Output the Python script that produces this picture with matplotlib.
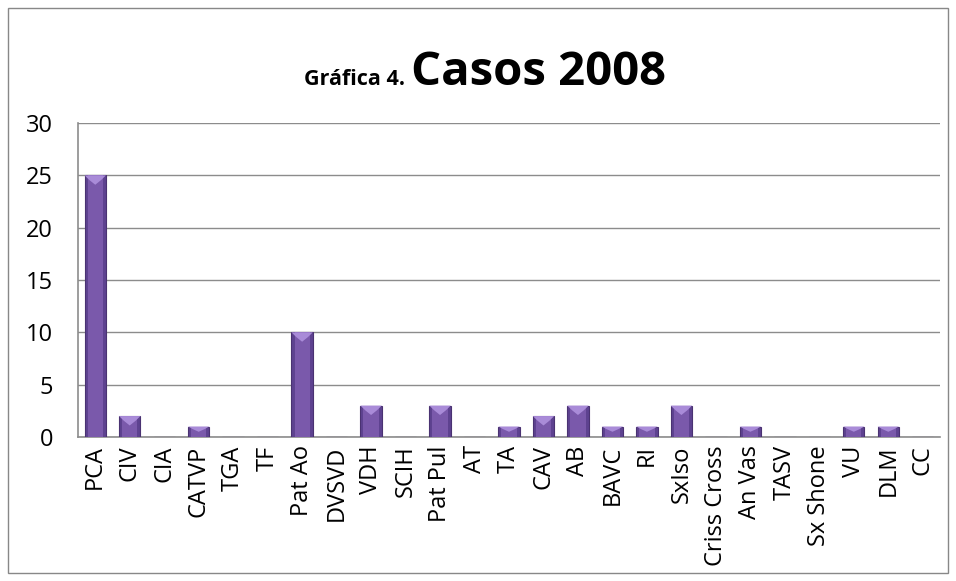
import matplotlib
matplotlib.use("Agg")
import matplotlib.pyplot as plt
from matplotlib.patches import Rectangle, Polygon
import numpy as np

categories = ["PCA", "CIV", "CIA", "CATVP", "TGA", "TF", "Pat Ao", "DVSVD", "VDH", "SCIH",
              "Pat Pul", "AT", "TA", "CAV", "AB", "BAVC", "RI", "SxIso", "Criss Cross",
              "An Vas", "TASV", "Sx Shone", "VU", "DLM", "CC"]
values = [25, 2, 0, 1, 0, 0, 10, 0, 3, 0, 3, 0, 1, 2, 3, 1, 1, 3, 0, 1, 0, 0, 1, 1, 0]
yticks = [0, 5, 10, 15, 20, 25, 30]

FONT = ["Open Sans", "DejaVu Sans"]
plt.rcParams["font.family"] = FONT

fig = plt.figure(figsize=(9.56, 5.81), dpi=100)
fig.patches.append(Rectangle((8/956, 8/581), 940/956, 565/581, transform=fig.transFigure,
                             fill=False, edgecolor="#888888", linewidth=1.0))
ax = fig.add_axes([78/956, 1-437/581, (940-78)/956, (437-123)/581])

x = np.arange(len(categories))
bw = 0.62
ax.bar(x, values, width=bw, color="#5e4290", edgecolor="#4a3272", linewidth=0.8, zorder=3)
for xi, v in zip(x, values):
    if v > 0:
        h = min(0.9, v * 0.5)
        ax.add_patch(Rectangle((xi - bw/2 + 0.09, 0), bw - 0.18, v, facecolor="#7a59ab",
                               edgecolor="none", zorder=3.5))
        ax.add_patch(Polygon([(xi - bw/2, v), (xi + bw/2, v), (xi + bw/2 - 0.14, v - h/2),
                              (xi, v - h), (xi - bw/2 + 0.14, v - h/2)],
                             closed=True, facecolor="#a98bd8", edgecolor="none", zorder=4))

ax.set_xlim(-0.5, len(categories) - 0.5)
ax.set_ylim(0, 30)
ax.set_yticks(yticks)
ax.set_yticklabels([str(t) for t in yticks], fontsize=17)
ax.set_xticks(x)
ax.set_xticklabels(categories, rotation=90, fontsize=17)
ax.yaxis.grid(True, color="#8c8c8c", linewidth=1.0, zorder=0)
ax.set_axisbelow(True)
for s in ["top", "right"]:
    ax.spines[s].set_visible(False)
for s in ["left", "bottom"]:
    ax.spines[s].set_color("#8c8c8c")
    ax.spines[s].set_linewidth(1.2)
ax.tick_params(axis="y", length=0, pad=18)
ax.tick_params(axis="x", length=0, pad=6)

# Title in two sizes
t1 = fig.text(0, 0, "Gráfica 4. ", fontsize=15.5, fontweight="bold")
t2 = fig.text(0, 0, "Casos 2008", fontsize=34, fontweight="bold")
fig.canvas.draw()
r = fig.canvas.get_renderer()
w1 = t1.get_window_extent(r).width
w2 = t2.get_window_extent(r).width
total = w1 + w2
cx = 485
x0 = cx - total/2
base_y = 1 - 85/581
t1.set_position((x0/956, base_y))
t2.set_position(((x0 + w1)/956, base_y))
t1.set_va("baseline"); t2.set_va("baseline")

fig.savefig("out.png", dpi=100)
